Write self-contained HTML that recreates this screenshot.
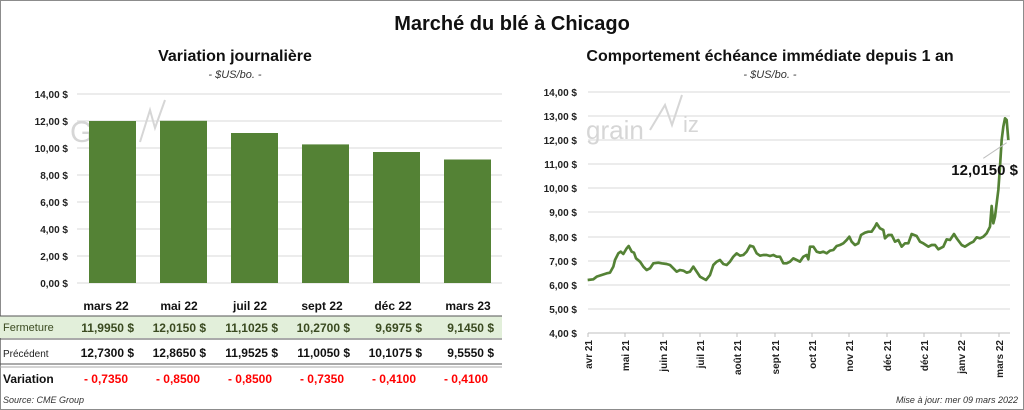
<!DOCTYPE html>
<html><head><meta charset="utf-8"><style>
body{margin:0;background:#fff;}
svg{display:block;font-family:"Liberation Sans",sans-serif;}
</style></head><body>
<svg width="1024" height="410" viewBox="0 0 1024 410" xmlns="http://www.w3.org/2000/svg">
<rect x="0.5" y="0.5" width="1023" height="409" fill="#fff" stroke="#8c8c8c"/>
<text x="512" y="30" text-anchor="middle" font-size="20" font-weight="bold" fill="#111">Marché du blé à Chicago</text>
<text x="235" y="61" text-anchor="middle" font-size="16" font-weight="bold" fill="#111">Variation  journalière</text>
<text x="235" y="78" text-anchor="middle" font-size="11" font-style="italic" fill="#333">- $US/bo. -</text>
<text x="770" y="61" text-anchor="middle" font-size="16" font-weight="bold" fill="#111">Comportement  échéance immédiate depuis 1 an</text>
<text x="770" y="78" text-anchor="middle" font-size="11" font-style="italic" fill="#333">- $US/bo. -</text>
<g stroke="#d9d9d9" stroke-width="1">
<line x1="77" y1="94" x2="502" y2="94"/><line x1="77" y1="121" x2="502" y2="121"/><line x1="77" y1="148" x2="502" y2="148"/>
<line x1="77" y1="175" x2="502" y2="175"/><line x1="77" y1="202" x2="502" y2="202"/><line x1="77" y1="229" x2="502" y2="229"/>
<line x1="77" y1="256" x2="502" y2="256"/><line x1="77" y1="283" x2="502" y2="283"/></g>
<g font-size="10" font-weight="bold" fill="#222" text-anchor="end">
<text x="68" y="98">14,00 $</text><text x="68" y="125">12,00 $</text><text x="68" y="152">10,00 $</text><text x="68" y="179">8,00 $</text>
<text x="68" y="206">6,00 $</text><text x="68" y="233">4,00 $</text><text x="68" y="260">2,00 $</text><text x="68" y="287">0,00 $</text></g>
<text x="70" y="142" font-size="30" fill="#d6d6d6">Gr</text>
<polyline points="140,142 150,110 155,128 165,100" fill="none" stroke="#d6d6d6" stroke-width="2"/>
<g fill="#548235">
<rect x="89" y="121" width="47" height="162"/><rect x="160" y="120.8" width="47" height="162.2"/>
<rect x="231" y="133" width="47" height="150"/><rect x="302" y="144.4" width="47" height="138.6"/>
<rect x="373" y="152" width="47" height="131"/><rect x="444" y="159.5" width="47" height="123.5"/></g>
<g font-size="12" font-weight="bold" fill="#111" text-anchor="middle">
<text x="106" y="310">mars 22</text><text x="179" y="310">mai 22</text><text x="250" y="310">juil 22</text>
<text x="322" y="310">sept 22</text><text x="393" y="310">déc 22</text><text x="468" y="310">mars 23</text></g>
<rect x="0" y="316" width="502" height="22" fill="#e2efda"/>
<line x1="0" y1="316" x2="502" y2="316" stroke="#555" stroke-width="1"/>
<line x1="0" y1="339" x2="502" y2="339" stroke="#555" stroke-width="1"/>
<line x1="0" y1="364" x2="502" y2="364" stroke="#555" stroke-width="1"/>
<line x1="0" y1="367" x2="502" y2="367" stroke="#aaa" stroke-width="1"/>
<text x="3" y="331" font-size="11" fill="#3a4a20">Fermeture</text>
<g font-size="12" font-weight="bold" fill="#3a4a20" text-anchor="end">
<text x="134" y="332">11,9950  $</text><text x="206" y="332">12,0150  $</text><text x="278" y="332">11,1025  $</text>
<text x="350" y="332">10,2700  $</text><text x="422" y="332">9,6975  $</text><text x="494" y="332">9,1450  $</text></g>
<text x="3" y="357" font-size="10" fill="#222">Précédent</text>
<g font-size="12" font-weight="bold" fill="#111" text-anchor="end">
<text x="134" y="357">12,7300  $</text><text x="206" y="357">12,8650  $</text><text x="278" y="357">11,9525  $</text>
<text x="350" y="357">11,0050  $</text><text x="422" y="357">10,1075  $</text><text x="494" y="357">9,5550  $</text></g>
<text x="3" y="383" font-size="12" font-weight="bold" fill="#111">Variation</text>
<g font-size="12" font-weight="bold" fill="#ff0000" text-anchor="middle">
<text x="106" y="383">- 0,7350</text><text x="178" y="383">- 0,8500</text><text x="250" y="383">- 0,8500</text>
<text x="322" y="383">- 0,7350</text><text x="394" y="383">- 0,4100</text><text x="466" y="383">- 0,4100</text></g>
<text x="3" y="403" font-size="9" font-style="italic" fill="#333">Source: CME Group</text>
<text x="1018" y="403" font-size="9" font-style="italic" fill="#333" text-anchor="end">Mise à jour: mer 09 mars 2022</text>
<g stroke="#d9d9d9" stroke-width="1">
<line x1="588" y1="92" x2="1010" y2="92"/><line x1="588" y1="116" x2="1010" y2="116"/><line x1="588" y1="140" x2="1010" y2="140"/>
<line x1="588" y1="164" x2="1010" y2="164"/><line x1="588" y1="188" x2="1010" y2="188"/><line x1="588" y1="212" x2="1010" y2="212"/>
<line x1="588" y1="237" x2="1010" y2="237"/><line x1="588" y1="261" x2="1010" y2="261"/><line x1="588" y1="285" x2="1010" y2="285"/>
<line x1="588" y1="309" x2="1010" y2="309"/></g>
<line x1="588" y1="333" x2="1010" y2="333" stroke="#bfbfbf"/>
<g font-size="10" font-weight="bold" fill="#222" text-anchor="end">
<text x="577" y="96">14,00 $</text><text x="577" y="120">13,00 $</text><text x="577" y="144">12,00 $</text><text x="577" y="168">11,00 $</text>
<text x="577" y="192">10,00 $</text><text x="577" y="216">9,00 $</text><text x="577" y="241">8,00 $</text><text x="577" y="265">7,00 $</text>
<text x="577" y="289">6,00 $</text><text x="577" y="313">5,00 $</text><text x="577" y="337">4,00 $</text></g>
<text x="586" y="139" font-size="26" fill="#d6d6d6">grain</text>
<polyline points="650,130 665,105 672,125 682,95" fill="none" stroke="#d6d6d6" stroke-width="2"/>
<text x="683" y="132" font-size="22" fill="#d6d6d6">iz</text>
<g font-size="10" font-weight="bold" fill="#222" text-anchor="end">
<text transform="translate(592,340) rotate(-90)">avr 21</text>
<text transform="translate(629,340) rotate(-90)">mai 21</text>
<text transform="translate(667,340) rotate(-90)">juin 21</text>
<text transform="translate(704,340) rotate(-90)">juil 21</text>
<text transform="translate(741,340) rotate(-90)">août 21</text>
<text transform="translate(779,340) rotate(-90)">sept 21</text>
<text transform="translate(816,340) rotate(-90)">oct 21</text>
<text transform="translate(853,340) rotate(-90)">nov 21</text>
<text transform="translate(891,340) rotate(-90)">déc 21</text>
<text transform="translate(928,340) rotate(-90)">déc 21</text>
<text transform="translate(965,340) rotate(-90)">janv 22</text>
<text transform="translate(1003,340) rotate(-90)">mars 22</text></g>
<g stroke="#bfbfbf"><line x1="588" y1="333" x2="588" y2="337"/><line x1="625" y1="333" x2="625" y2="337"/><line x1="663" y1="333" x2="663" y2="337"/><line x1="700" y1="333" x2="700" y2="337"/><line x1="737" y1="333" x2="737" y2="337"/><line x1="775" y1="333" x2="775" y2="337"/><line x1="812" y1="333" x2="812" y2="337"/><line x1="849" y1="333" x2="849" y2="337"/><line x1="887" y1="333" x2="887" y2="337"/><line x1="924" y1="333" x2="924" y2="337"/><line x1="961" y1="333" x2="961" y2="337"/><line x1="999" y1="333" x2="999" y2="337"/></g>
<g transform="translate(530,80) scale(0.33333)">
<polyline fill="none" stroke="#548235" stroke-width="8" stroke-linejoin="round" points="173,600 190,598 200,590 215,585 230,580 240,578 250,560 255,540 265,520 272,515 280,522 290,505 296,498 305,515 312,518 318,535 330,545 340,560 350,570 360,565 370,550 385,548 395,550 410,552 420,555 430,565 440,575 450,570 460,572 470,578 480,575 490,560 500,575 510,590 528,600 540,585 550,555 560,545 570,540 580,552 590,555 600,545 610,530 620,520 630,527 640,525 650,515 660,497 670,500 680,520 690,527 700,525 710,525 720,528 730,525 740,530 750,530 760,550 770,550 780,545 790,535 800,540 810,545 820,530 830,525 835,538 840,500 850,500 860,515 870,518 880,515 890,520 900,512 910,510 920,498 930,495 940,490 950,480 958,470 965,485 975,495 985,490 993,465 1005,458 1015,455 1025,455 1035,440 1040,430 1050,445 1060,450 1065,475 1075,465 1085,465 1095,485 1105,480 1115,500 1125,490 1135,490 1145,462 1160,468 1170,485 1180,490 1195,500 1205,495 1215,495 1225,508 1240,500 1250,478 1260,480 1272,462 1280,475 1295,495 1305,500 1320,490 1330,485 1340,472 1350,475 1360,470 1370,460 1380,440 1385,378 1390,430 1395,410 1405,330 1410,260 1415,180 1420,140 1425,115 1430,120 1435,180"/>
<line x1="1360" y1="235" x2="1430" y2="188" stroke="#bfbfbf" stroke-width="3"/>
</g>
<text x="1018" y="175" font-size="15" font-weight="bold" fill="#111" text-anchor="end">12,0150 $</text>
</svg>
</body></html>
